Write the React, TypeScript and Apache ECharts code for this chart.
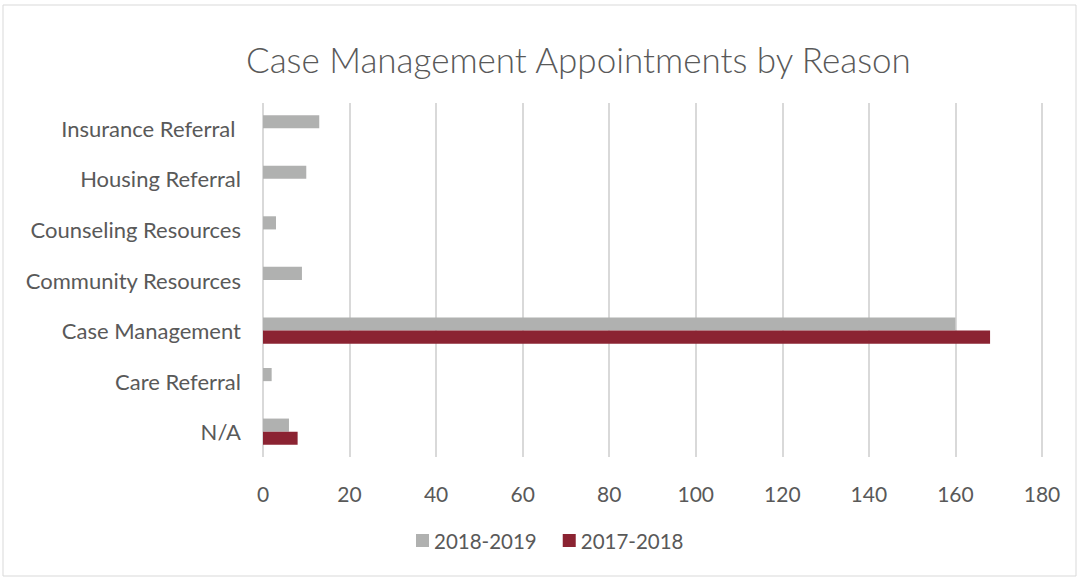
import React, { useEffect, useRef } from "react";
import * as echarts from "echarts";

const categories = [
  "N/A",
  "Care Referral",
  "Case Management",
  "Community Resources",
  "Counseling Resources",
  "Housing Referral",
  "Insurance Referral ",
];
const series2018_2019 = [6, 2, 160, 9, 3, 10, 13];
const series2017_2018 = [8, 0, 168, 0, 0, 0, 0];
const xTicks = { min: 0, max: 180, interval: 20 };

export default function App() {
  const ref = useRef<HTMLDivElement>(null);
  useEffect(() => {
    const chart = echarts.init(ref.current!, null, { renderer: "svg" });
    const font = "Lato, 'Open Sans', sans-serif";
    chart.setOption({
      animation: false,
      backgroundColor: "#ffffff",
      title: {
        text: "Case Management Appointments by Reason",
        left: 241,
        top: 36,
        textStyle: { fontFamily: font, fontWeight: 300, fontSize: 35, color: "#595959" },
      },
      graphic: [
        {
          type: "rect",
          shape: { x: 3, y: 5, width: 1073, height: 571 },
          style: { fill: "none", stroke: "#d9d9d9", lineWidth: 1 },
          silent: true,
        },
      ],
      legend: {
        data: ["2018-2019", "2017-2018"],
        bottom: 24,
        left: 411,
        itemWidth: 13,
        itemHeight: 13,
        itemGap: 26,
        icon: "rect",
        textStyle: { fontFamily: font, fontSize: 20.5, color: "#595959", padding: [0, 0, 0, 0] },
      },
      grid: { left: 263, right: 38, top: 103, bottom: 123, containLabel: false },
      xAxis: {
        type: "value",
        min: xTicks.min,
        max: xTicks.max,
        interval: xTicks.interval,
        axisLine: { show: false },
        axisTick: { show: false },
        splitLine: { show: true, lineStyle: { color: "#d9d9d9", width: 2 } },
        axisLabel: { fontFamily: font, fontSize: 21, color: "#595959", margin: 26 },
      },
      yAxis: {
        type: "category",
        data: categories,
        axisLine: { show: false },
        axisTick: { show: false },
        axisLabel: { fontFamily: font, fontSize: 22, color: "#595959", margin: 22 },
      },
      series: [
        {
          name: "2018-2019",
          type: "bar",
          data: series2018_2019,
          itemStyle: { color: "#b0b1b0" },
          barGap: "0%",
          barCategoryGap: "48%",
        },
        {
          name: "2017-2018",
          type: "bar",
          data: series2017_2018,
          itemStyle: { color: "#8b2332" },
          barGap: "0%",
          barCategoryGap: "48%",
        },
      ],
    });
    return () => chart.dispose();
  }, []);
  return (
    <div
      ref={ref}
      style={{ position: "absolute", left: 0, top: 0, width: 1080, height: 580 }}
    />
  );
}
